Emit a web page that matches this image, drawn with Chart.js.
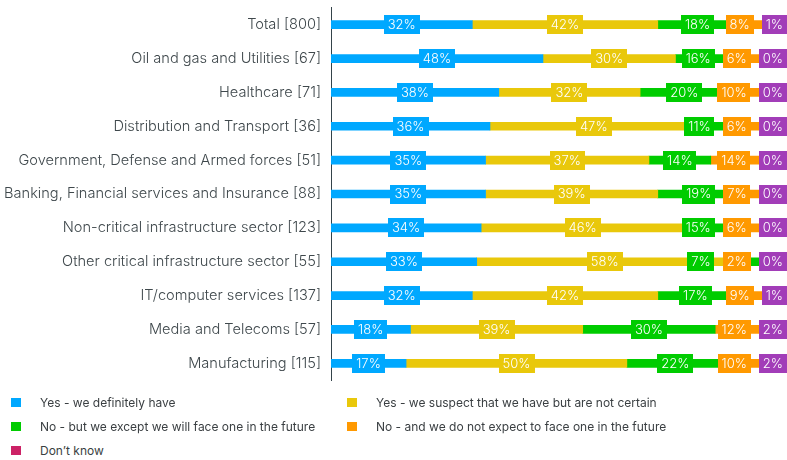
<!DOCTYPE html>
<html>
<head>
<meta charset="utf-8">
<script src="https://cdn.jsdelivr.net/npm/chart.js@4/dist/chart.umd.min.js"></script>
<style>
  html, body { margin: 0; padding: 0; background: #fff; }
  #wrap { position: relative; width: 787px; height: 460px; overflow: hidden; }
  #chartBox { position: absolute; left: 0; top: -11px; width: 787px; height: 410px; }
  .lg { position: absolute; font-family: Inter, "Noto Sans", sans-serif; font-size: 12px; color: #3a3f42; white-space: nowrap; line-height: 14px; }
  .mk { position: absolute; width: 10px; height: 9px; }
</style>
</head>
<body>
<div id="wrap">
  <div id="chartBox"><canvas id="c"></canvas></div>
  <div id="legend"></div>
</div>
<script>
const categories = [
  "Total [800]",
  "Oil and gas and Utilities [67]",
  "Healthcare [71]",
  "Distribution and Transport [36]",
  "Government, Defense and Armed forces [51]",
  "Banking, Financial services and Insurance [88]",
  "Non-critical infrastructure sector [123]",
  "Other critical infrastructure sector [55]",
  "IT/computer services [137]",
  "Media and Telecoms [57]",
  "Manufacturing [115]"
];
const yesDefinitely = [32, 48, 38, 36, 35, 35, 34, 33, 32, 18, 17];
const yesSuspect    = [42, 30, 32, 47, 37, 39, 46, 58, 42, 39, 50];
const noButExpect   = [18, 16, 20, 11, 14, 19, 15, 7, 17, 30, 22];
const noNotExpect   = [8, 6, 10, 6, 14, 7, 6, 2, 9, 12, 10];
const dontKnow      = [1, 0, 0, 0, 0, 0, 0, 0, 1, 2, 2];
const seriesNames = [
  "Yes - we definitely have",
  "Yes - we suspect that we have but are not certain",
  "No - but we except we will face one in the future",
  "No - and we do not expect to face one in the future",
  "Don\u2019t know"
];

const colors = ['#00A8FF', '#E9C80B', '#00CC00', '#FF9900', '#A23DB8'];
const legendColors = ['#00A8FF', '#E9C80B', '#00CC00', '#FF9900', '#CC2266'];
const seriesData = [yesDefinitely, yesSuspect, noButExpect, noNotExpect, dontKnow];

const labelFont = '300 13px Inter, "Noto Sans", sans-serif';

const boxLabels = {
  id: 'boxLabels',
  afterDatasetsDraw(chart) {
    const ctx = chart.ctx;
    ctx.save();
    ctx.font = labelFont;
    ctx.textAlign = 'center';
    ctx.textBaseline = 'middle';
    const n = chart.data.labels.length;
    const dsCount = chart.data.datasets.length;
    const H = 19, PAD = 4, GAP = 8, RIGHT = chart.width;
    for (let i = 0; i < n; i++) {
      const boxes = [];
      for (let d = 0; d < dsCount; d++) {
        const el = chart.getDatasetMeta(d).data[i];
        const txt = chart.data.datasets[d].data[i] + '%';
        const w = ctx.measureText(txt).width + PAD * 2;
        const cx = (el.x + el.base) / 2;
        boxes.push({ txt, w, cx, y: el.y, color: chart.data.datasets[d].backgroundColor });
      }
      let limit = RIGHT;
      for (let k = boxes.length - 1; k >= 0; k--) {
        const b = boxes[k];
        if (k === boxes.length - 1) b.cx = b.cx + 3;
        if (b.cx + b.w / 2 > limit) b.cx = limit - b.w / 2;
        limit = b.cx - b.w / 2 - GAP;
      }
      for (const b of boxes) {
        ctx.fillStyle = b.color;
        ctx.fillRect(Math.round(b.cx - b.w / 2), Math.round(b.y - H / 2), Math.round(b.w), H);
        ctx.fillStyle = '#ffffff';
        ctx.fillText(b.txt, b.cx, b.y + 0.5);
      }
    }
    ctx.restore();
  }
};

new Chart(document.getElementById('c'), {
  type: 'bar',
  data: {
    labels: categories,
    datasets: seriesData.map((arr, k) => ({
      label: seriesNames[k],
      data: arr,
      backgroundColor: colors[k],
      borderWidth: 0,
      barThickness: 8
    }))
  },
  options: {
    indexAxis: 'y',
    responsive: true,
    maintainAspectRatio: false,
    animation: false,
    layout: { padding: { top: 6, bottom: 5, left: 0, right: 10 } },
    plugins: { legend: { display: false }, tooltip: { enabled: false } },
    scales: {
      x: { stacked: true, min: 0, max: 101, display: false },
      y: {
        stacked: true,
        afterFit(scale) { scale.width = 331; },
        grid: { display: false, drawTicks: false },
        border: { display: true, color: '#34434a', width: 1 },
        ticks: {
          padding: 10,
          color: '#3f484c',
          font: { family: 'Inter, "Noto Sans", sans-serif', size: 14.6, weight: '300' }
        }
      }
    }
  },
  plugins: [boxLabels]
});

const legend = document.getElementById('legend');
const pos = [[11, 398], [347, 398], [11, 422], [347, 422], [11, 446]];
seriesNames.forEach((name, k) => {
  const m = document.createElement('div');
  m.className = 'mk';
  m.style.left = pos[k][0] + 'px';
  m.style.top = pos[k][1] + 'px';
  m.style.background = legendColors[k];
  legend.appendChild(m);
  const t = document.createElement('div');
  t.className = 'lg';
  t.style.left = (pos[k][0] + 29) + 'px';
  t.style.top = (pos[k][1] - 2) + 'px';
  t.textContent = name;
  legend.appendChild(t);
});
</script>
</body>
</html>
